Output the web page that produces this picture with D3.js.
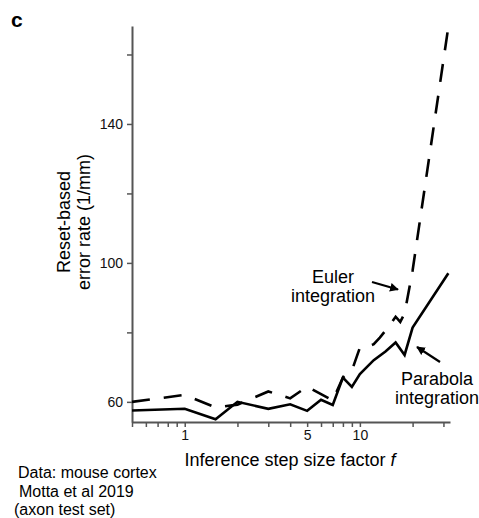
<!DOCTYPE html>
<html>
<head>
<meta charset="utf-8">
<script src="https://cdn.jsdelivr.net/npm/d3@7"></script>
<style>
  body { margin: 0; background: #fff; }
  text { font-family: "Liberation Sans", Arial, sans-serif; }
</style>
</head>
<body>
<div id="chart"></div>
<script>
// data
var eulerF    = [0.5, 1, 1.5, 2, 3, 4, 5, 6, 7, 8, 9, 10, 11, 12, 13, 14, 15, 16, 17, 18, 20, 32];
var eulerRate = [60, 62, 58.4, 59.2, 63, 61, 64.4, 62.2, 60.4, 67, 69, 75.6, 75.8, 76.6, 78.5, 80.5, 82.5, 84.5, 83, 85.4, 97.8, 168];

var parabolaF    = [0.5, 1, 1.5, 2, 3, 4, 5, 6, 7, 8, 9, 10, 12, 14, 16, 18, 20, 32];
var parabolaRate = [57.5, 58, 55, 60, 58, 59.3, 57.4, 60.6, 59.1, 67, 64.3, 68, 72, 74.5, 77.1, 73.5, 81.4, 97];

var xTicks = [0.5, 0.6, 0.7, 0.8, 0.9, 1, 2, 3, 4, 5, 6, 7, 8, 9, 10, 20, 30];
var xLabels = [1, 5, 10];
var yTicks = [60, 80, 100, 120, 140, 160];
var yLabels = [60, 100, 140];

var width = 479, height = 518;

var svg = d3.select("#chart")
  .append("svg")
    .attr("width", width)
    .attr("height", height);

var x = d3.scaleLog()
  .domain([0.5, 32.7])
  .range([132, 450]);

var y = d3.scaleLinear()
  .domain([54.2, 168.2])
  .range([422, 26]);

// axes
var xAxis = svg.append("g")
  .attr("transform", "translate(0,422)")
  .call(d3.axisBottom(x)
    .tickValues(xTicks)
    .tickSize(5)
    .tickSizeOuter(0)
    .tickPadding(3)
    .tickFormat(function(d) { return xLabels.indexOf(d) >= 0 ? d : ""; }));

var yAxis = svg.append("g")
  .attr("transform", "translate(132,0)")
  .call(d3.axisLeft(y)
    .tickValues(yTicks)
    .tickSize(5)
    .tickSizeOuter(0)
    .tickPadding(4)
    .tickFormat(function(d) { return yLabels.indexOf(d) >= 0 ? d : ""; }));

[xAxis, yAxis].forEach(function(a) {
  a.select(".domain").attr("stroke", "#555").attr("stroke-width", 2);
  a.selectAll(".tick line").attr("stroke", "#555").attr("stroke-width", 1.5);
  a.selectAll(".tick text")
    .attr("fill", "#111")
    .style("font-size", "14px")
    .style("font-family", "Liberation Sans, Arial, sans-serif");
});

// lines
var line = d3.line()
  .x(function(d) { return x(d[0]); })
  .y(function(d) { return y(d[1]); });

svg.append("path")
  .datum(eulerF.map(function(f, i) { return [f, eulerRate[i]]; }))
  .attr("fill", "none")
  .attr("stroke", "#000")
  .attr("stroke-width", 2.6)
  .attr("stroke-dasharray", "18,14")
  .attr("d", line);

svg.append("path")
  .datum(parabolaF.map(function(f, i) { return [f, parabolaRate[i]]; }))
  .attr("fill", "none")
  .attr("stroke", "#000")
  .attr("stroke-width", 2.6)
  .attr("stroke-linejoin", "miter")
  .attr("d", line);

// axis titles
var xt = svg.append("text")
  .attr("x", 290)
  .attr("y", 466)
  .attr("text-anchor", "middle")
  .style("font-size", "18px");
xt.append("tspan").text("Inference step size factor ");
xt.append("tspan").style("font-style", "italic").text("f");

svg.append("text")
  .attr("transform", "translate(70,222) rotate(-90)")
  .attr("text-anchor", "middle")
  .style("font-size", "18px")
  .text("Reset-based");
svg.append("text")
  .attr("transform", "translate(90,222) rotate(-90)")
  .attr("text-anchor", "middle")
  .style("font-size", "18px")
  .text("error rate (1/mm)");

// panel letter
svg.append("text")
  .attr("x", 11)
  .attr("y", 27)
  .style("font-size", "21px")
  .style("font-weight", "bold")
  .text("c");

// annotations
svg.append("defs").append("marker")
  .attr("id", "head")
  .attr("viewBox", "0 0 10 10")
  .attr("refX", 9)
  .attr("refY", 5)
  .attr("markerWidth", 4)
  .attr("markerHeight", 4)
  .attr("orient", "auto")
  .append("path")
    .attr("d", "M0,0 L10,5 L0,10 Z")
    .attr("fill", "#000");

svg.append("text").attr("x", 333).attr("y", 283).attr("text-anchor", "middle")
  .style("font-size", "18px").text("Euler");
svg.append("text").attr("x", 333).attr("y", 302).attr("text-anchor", "middle")
  .style("font-size", "18px").text("integration");
svg.append("line")
  .attr("x1", 372).attr("y1", 282).attr("x2", 398).attr("y2", 289.5)
  .attr("stroke", "#000").attr("stroke-width", 2.2)
  .attr("marker-end", "url(#head)");

svg.append("text").attr("x", 437).attr("y", 385).attr("text-anchor", "middle")
  .style("font-size", "18px").text("Parabola");
svg.append("text").attr("x", 437).attr("y", 404).attr("text-anchor", "middle")
  .style("font-size", "18px").text("integration");
svg.append("line")
  .attr("x1", 440).attr("y1", 362).attr("x2", 417).attr("y2", 347)
  .attr("stroke", "#000").attr("stroke-width", 2.2)
  .attr("marker-end", "url(#head)");

// data note
svg.append("text").attr("x", 18).attr("y", 478).style("font-size", "16px").text("Data: mouse cortex");
svg.append("text").attr("x", 19).attr("y", 497).style("font-size", "16px").text("Motta et al 2019");
svg.append("text").attr("x", 14).attr("y", 515).style("font-size", "16px").text("(axon test set)");
</script>
</body>
</html>
